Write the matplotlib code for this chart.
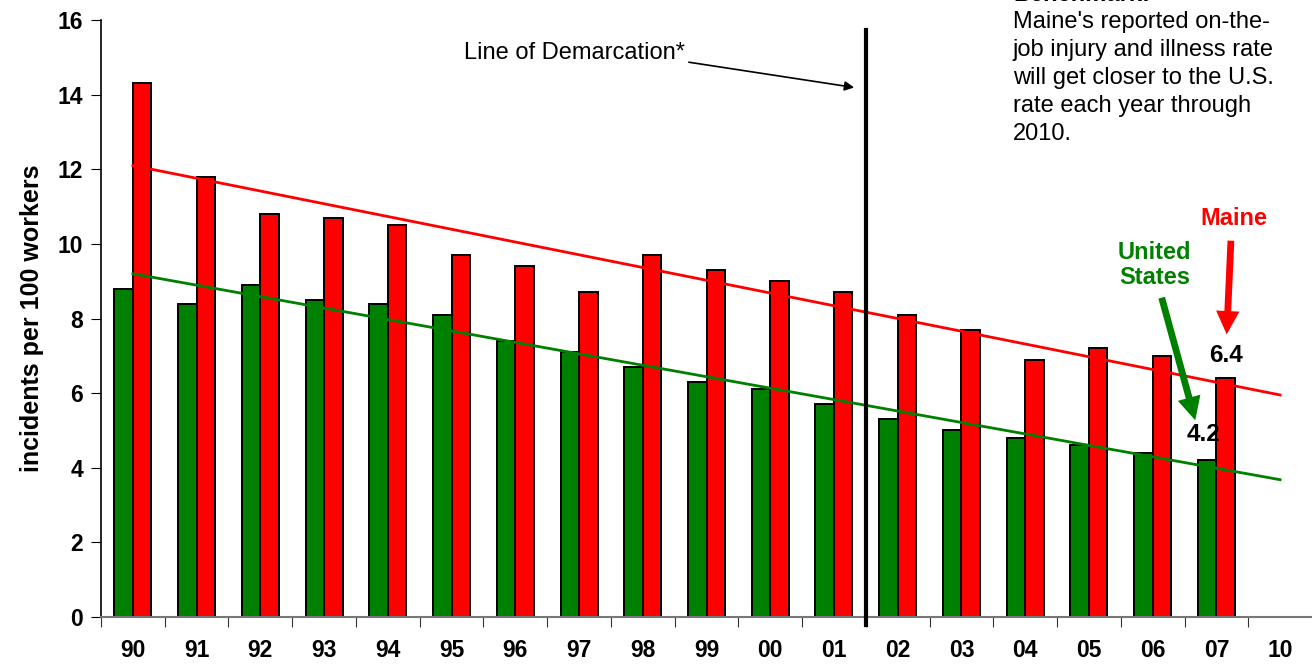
import matplotlib
matplotlib.use("Agg")
import matplotlib.pyplot as plt
import numpy as np

categories = ["90", "91", "92", "93", "94", "95", "96", "97", "98", "99",
              "00", "01", "02", "03", "04", "05", "06", "07", "10"]
us_rates = [8.8, 8.4, 8.9, 8.5, 8.4, 8.1, 7.4, 7.1, 6.7, 6.3,
            6.1, 5.7, 5.3, 5.0, 4.8, 4.6, 4.4, 4.2, None]
maine_rates = [14.3, 11.8, 10.8, 10.7, 10.5, 9.7, 9.4, 8.7, 9.7, 9.3,
               9.0, 8.7, 8.1, 7.7, 6.9, 7.2, 7.0, 6.4, None]
maine_trend = [12.1, 5.95]
us_trend = [9.2, 3.68]
benchmark_lines = ["Maine's reported on-the-", "job injury and illness rate",
                   "will get closer to the U.S.", "rate each year through", "2010."]

plt.rcParams['font.family'] = ['Liberation Sans', 'DejaVu Sans']

fig = plt.figure(figsize=(13.12, 6.64), dpi=100)
ax = fig.add_axes([101/1312, 47/664, 1 - 101/1312, (617-20)/664])

x = np.arange(len(categories))
w = 0.29
us_vals = [v if v is not None else 0 for v in us_rates]
me_vals = [v if v is not None else 0 for v in maine_rates]
n = len([v for v in us_rates if v is not None])
ax.bar(x[:n] - w/2, us_vals[:n], width=w, color="#008000", edgecolor="black", linewidth=1.4, zorder=2)
ax.bar(x[:n] + w/2, me_vals[:n], width=w, color="#ff0000", edgecolor="black", linewidth=1.4, zorder=2)

ax.plot([x[0], x[-1]], maine_trend, color="#ff0000", lw=2, zorder=3)
ax.plot([x[0], x[-1]], us_trend, color="#008000", lw=2, zorder=3)

ax.set_xlim(-0.5, len(categories) - 0.5)
ax.set_ylim(0, 16)
ax.set_yticks(np.arange(0, 17, 2))
ax.set_yticklabels([str(v) for v in range(0, 17, 2)], fontsize=16.5, fontweight="bold")
ax.set_xticks(np.arange(-0.5, len(categories) - 0.5, 1.0))
ax.set_xticklabels([])
ax.set_xticks(x, minor=True)
ax.set_xticklabels(categories, minor=True, fontsize=16.5, fontweight="bold")
ax.tick_params(axis="x", which="minor", length=0, pad=16)
ax.tick_params(axis="x", which="major", length=7, direction="out", color="#333333")
ax.tick_params(axis="y", length=7, direction="out", pad=6)
for s in ["top", "right"]:
    ax.spines[s].set_visible(False)
ax.spines["bottom"].set_color("#777777")
ax.spines["bottom"].set_linewidth(1.5)
ax.spines["left"].set_linewidth(1.2)
ax.set_ylabel("incidents per 100 workers", fontsize=18, fontweight="bold", labelpad=10)

# line of demarcation
ax.plot([11.5, 11.5], [-0.21, 15.74], color="black", lw=3, clip_on=False, zorder=4)
ax.annotate("", xy=(11.36, 14.18), xytext=(8.68, 14.88),
            arrowprops=dict(arrowstyle="-|>", color="black", lw=1.2, mutation_scale=14))
ax.text(6.93, 15.12, "Line of Demarcation*", fontsize=17, ha="center", va="center")

# Maine / US arrows
ax.text(17.27, 10.67, "Maine", color="#ff0000", fontsize=17, fontweight="bold", ha="center", va="center")
ax.annotate("", xy=(17.16, 7.5), xytext=(17.23, 10.16),
            arrowprops=dict(arrowstyle="simple,head_width=1.2,head_length=1.2,tail_width=0.35",
                            color="#ff0000", lw=0, mutation_scale=14))
ax.text(16.03, 9.44, "United\nStates", color="#008000", fontsize=17, fontweight="bold",
        ha="center", va="center", linespacing=1.1)
ax.annotate("", xy=(16.68, 5.2), xytext=(16.13, 8.63),
            arrowprops=dict(arrowstyle="simple,head_width=1.2,head_length=1.2,tail_width=0.35",
                            color="#008000", lw=0, mutation_scale=14))
ax.text(17.15, 7.02, "6.4", fontsize=17.5, fontweight="bold", ha="center", va="center")
ax.text(16.8, 4.88, "4.2", fontsize=17.5, fontweight="bold", ha="center", va="center")

# Benchmark text
fig.text(1013/1312, 1 - (-6)/664, "Benchmark:", fontsize=17, fontweight="bold", ha="left", va="center")
for i, line in enumerate(benchmark_lines):
    fig.text(1013/1312, 1 - (22 + 28*i)/664, line, fontsize=17, ha="left", va="center")

fig.savefig("out.png", dpi=100)
